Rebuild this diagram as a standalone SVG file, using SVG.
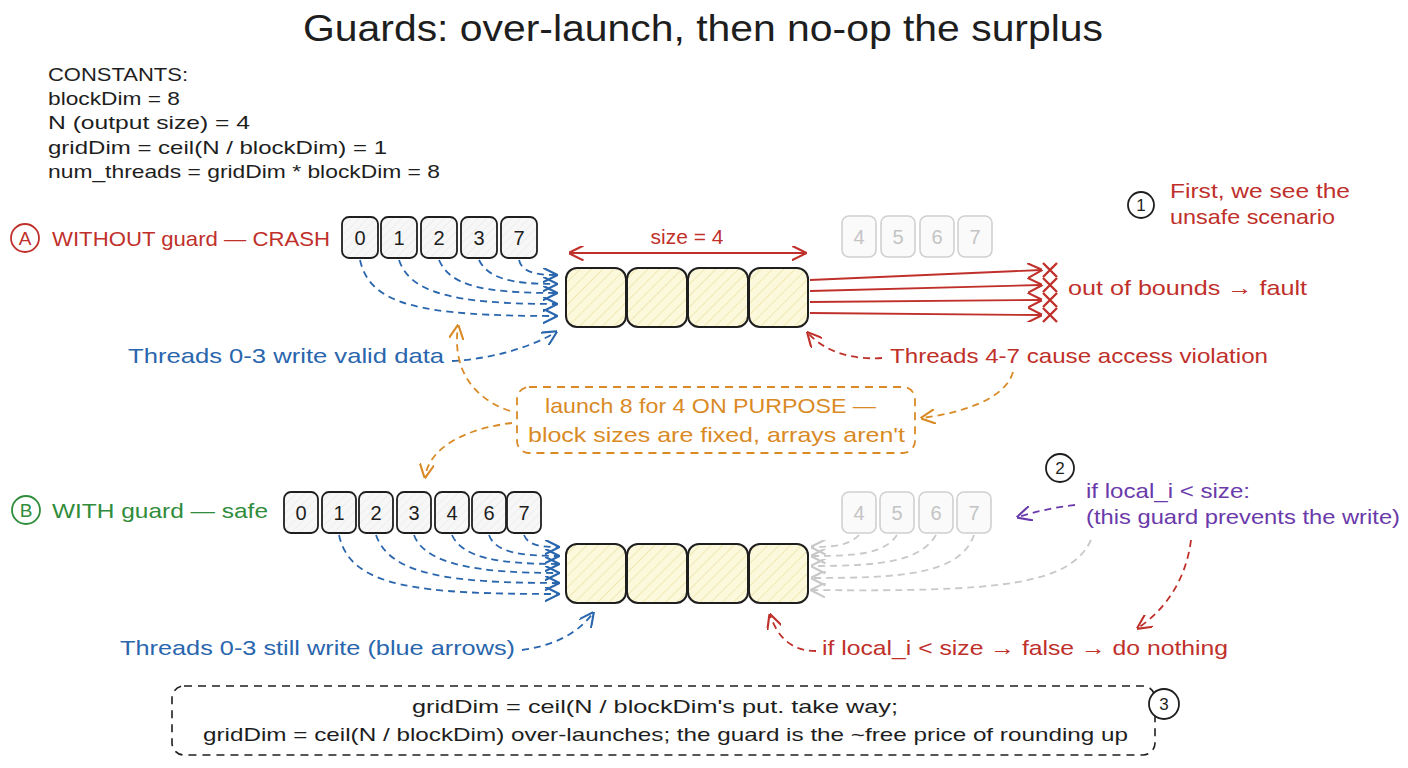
<svg xmlns="http://www.w3.org/2000/svg" width="1408" height="768" viewBox="0 0 1408 768">
<defs>
<style>
text{font-family:"Liberation Sans","DejaVu Sans",sans-serif;}
.t{fill:#1e1e1e;}
.red{fill:#c0302b;}
.blue{fill:#2a66ad;}
.green{fill:#2f8c3a;}
.org{fill:#d98a25;}
.pur{fill:#6a3aaa;}
.gray{fill:#c4c4c4;}
.tb{fill:url(#hg);stroke:#1e1e1e;stroke-width:1.8;}
.gb{fill:#fafafa;stroke:#d0d0d0;stroke-width:1.6;}
.cell{fill:url(#hy);stroke:#1e1e1e;stroke-width:2;}
.dig{font-size:20px;text-anchor:middle;}
.c{fill:none;stroke-width:1.8;}
.d{stroke-dasharray:7 5;}
.cb{stroke:#2a66ad;}
.cr{stroke:#c0302b;}
.co{stroke:#d98a25;}
.cp{stroke:#6a3aaa;}
.cg{stroke:#c8c8c8;}
</style>
<pattern id="hy" patternUnits="userSpaceOnUse" width="8" height="8" patternTransform="rotate(45)">
<rect width="8" height="8" fill="#fcf8dc"/>
<line x1="0" y1="0" x2="0" y2="8" stroke="#ede3a6" stroke-width="1.5"/>
</pattern>
<pattern id="hg" patternUnits="userSpaceOnUse" width="6" height="6" patternTransform="rotate(45)">
<rect width="6" height="6" fill="#f7f7f7"/>
<line x1="0" y1="0" x2="0" y2="6" stroke="#e6e6e6" stroke-width="1"/>
</pattern>
<marker id="ab" viewBox="0 0 10 10" refX="9" refY="5" markerWidth="15" markerHeight="15" markerUnits="userSpaceOnUse" orient="auto"><path d="M0,0 L10,5 L0,10" fill="none" stroke="#2a66ad" stroke-width="1.4"/></marker>
<marker id="ar" viewBox="0 0 10 10" refX="9" refY="5" markerWidth="15" markerHeight="15" markerUnits="userSpaceOnUse" orient="auto-start-reverse"><path d="M0,0 L10,5 L0,10" fill="none" stroke="#c0302b" stroke-width="1.4"/></marker>
<marker id="ao" viewBox="0 0 10 10" refX="9" refY="5" markerWidth="15" markerHeight="15" markerUnits="userSpaceOnUse" orient="auto"><path d="M0,0 L10,5 L0,10" fill="none" stroke="#d98a25" stroke-width="1.4"/></marker>
<marker id="ap" viewBox="0 0 10 10" refX="9" refY="5" markerWidth="15" markerHeight="15" markerUnits="userSpaceOnUse" orient="auto"><path d="M0,0 L10,5 L0,10" fill="none" stroke="#6a3aaa" stroke-width="1.4"/></marker>
<marker id="ag" viewBox="0 0 10 10" refX="9" refY="5" markerWidth="15" markerHeight="15" markerUnits="userSpaceOnUse" orient="auto"><path d="M0,0 L10,5 L0,10" fill="none" stroke="#c8c8c8" stroke-width="1.4"/></marker>
</defs>
<rect width="1408" height="768" fill="#ffffff"/>

<g id="title"><text class="t" x="303" y="41" font-size="36" textLength="800" lengthAdjust="spacingAndGlyphs">Guards: over-launch, then no-op the surplus</text></g>

<g id="constants" font-size="19">
<text class="t" x="48" y="81" textLength="140" lengthAdjust="spacingAndGlyphs">CONSTANTS:</text>
<text class="t" x="48" y="105" textLength="132" lengthAdjust="spacingAndGlyphs">blockDim = 8</text>
<text class="t" x="48" y="129" textLength="202" lengthAdjust="spacingAndGlyphs">N (output size) = 4</text>
<text class="t" x="48" y="154" textLength="339" lengthAdjust="spacingAndGlyphs">gridDim = ceil(N / blockDim) = 1</text>
<text class="t" x="48" y="178" textLength="392" lengthAdjust="spacingAndGlyphs">num_threads = gridDim * blockDim = 8</text>
</g>

<g id="labelA">
<circle cx="25" cy="238" r="14" fill="none" stroke="#c0302b" stroke-width="1.8"/>
<text class="red" x="25" y="245" font-size="19" text-anchor="middle">A</text>
<text class="red" x="52" y="246" font-size="21" textLength="278" lengthAdjust="spacingAndGlyphs">WITHOUT guard — CRASH</text>
</g>

<g id="threadsA">
<rect class="tb" x="342" y="217" width="36" height="41" rx="7"/><text class="t dig" x="360" y="245">0</text>
<rect class="tb" x="381" y="217" width="36" height="41" rx="7"/><text class="t dig" x="399" y="245">1</text>
<rect class="tb" x="421" y="217" width="36" height="41" rx="7"/><text class="t dig" x="439" y="245">2</text>
<rect class="tb" x="461" y="217" width="36" height="41" rx="7"/><text class="t dig" x="479" y="245">3</text>
<rect class="tb" x="501" y="217" width="36" height="41" rx="7"/><text class="t dig" x="519" y="245">7</text>
</g>

<g id="ghostA">
<rect class="gb" x="842" y="216" width="34" height="41" rx="7"/><text class="gray dig" x="859" y="244">4</text>
<rect class="gb" x="881" y="216" width="34" height="41" rx="7"/><text class="gray dig" x="898" y="244">5</text>
<rect class="gb" x="920" y="216" width="34" height="41" rx="7"/><text class="gray dig" x="937" y="244">6</text>
<rect class="gb" x="958" y="216" width="34" height="41" rx="7"/><text class="gray dig" x="975" y="244">7</text>
</g>

<g id="arrayA">
<rect class="cell" x="566" y="268" width="60" height="59" rx="11"/>
<rect class="cell" x="627" y="268" width="60" height="59" rx="11"/>
<rect class="cell" x="688" y="268" width="60" height="59" rx="11"/>
<rect class="cell" x="749" y="268" width="59" height="59" rx="11"/>
</g>

<g id="sizeLabel">
<text class="red" x="687" y="244" font-size="21" text-anchor="middle">size = 4</text>
</g>

<g id="faults">
<g stroke="#c0302b" stroke-width="2.4" fill="none">
<path d="M1043,263 L1057,277 M1057,263 L1043,277"/>
<path d="M1043,278 L1057,292 M1057,278 L1043,292"/>
<path d="M1043,293 L1057,307 M1057,293 L1043,307"/>
<path d="M1043,308 L1057,322 M1057,308 L1043,322"/>
</g>
<text class="red" x="1068" y="295" font-size="21" textLength="239" lengthAdjust="spacingAndGlyphs">out of bounds → fault</text>
</g>

<g id="note1">
<circle cx="1141" cy="205" r="13" fill="none" stroke="#1e1e1e" stroke-width="1.8"/>
<text class="t" x="1141" y="211" font-size="17" text-anchor="middle">1</text>
<text class="red" x="1170" y="198" font-size="21" textLength="180" lengthAdjust="spacingAndGlyphs">First, we see the</text>
<text class="red" x="1170" y="224" font-size="21" textLength="165" lengthAdjust="spacingAndGlyphs">unsafe scenario</text>
</g>

<g id="noteValidA"><text class="blue" x="128" y="363" font-size="21" textLength="316" lengthAdjust="spacingAndGlyphs">Threads 0-3 write valid data</text></g>
<g id="noteViolation"><text class="red" x="890" y="363" font-size="21" textLength="378" lengthAdjust="spacingAndGlyphs">Threads 4-7 cause access violation</text></g>

<g id="purposeNote">
<rect x="517" y="387" width="398" height="66" rx="12" fill="none" stroke="#d98a25" stroke-width="1.8" stroke-dasharray="8 6"/>
<text class="org" x="545" y="413" font-size="21" textLength="331" lengthAdjust="spacingAndGlyphs">launch 8 for 4 ON PURPOSE —</text>
<text class="org" x="528" y="442" font-size="21" textLength="377" lengthAdjust="spacingAndGlyphs">block sizes are fixed, arrays aren't</text>
</g>

<g id="labelB">
<circle cx="26" cy="510" r="14" fill="none" stroke="#2f8c3a" stroke-width="1.8"/>
<text class="green" x="26" y="517" font-size="19" text-anchor="middle">B</text>
<text class="green" x="52" y="518" font-size="21" textLength="216" lengthAdjust="spacingAndGlyphs">WITH guard — safe</text>
</g>

<g id="threadsB">
<rect class="tb" x="284" y="492" width="34" height="41" rx="7"/><text class="t dig" x="301" y="520">0</text>
<rect class="tb" x="322" y="492" width="34" height="41" rx="7"/><text class="t dig" x="339" y="520">1</text>
<rect class="tb" x="359" y="492" width="34" height="41" rx="7"/><text class="t dig" x="376" y="520">2</text>
<rect class="tb" x="397" y="492" width="34" height="41" rx="7"/><text class="t dig" x="414" y="520">3</text>
<rect class="tb" x="435" y="492" width="34" height="41" rx="7"/><text class="t dig" x="452" y="520">4</text>
<rect class="tb" x="472" y="492" width="34" height="41" rx="7"/><text class="t dig" x="489" y="520">6</text>
<rect class="tb" x="507" y="492" width="34" height="41" rx="7"/><text class="t dig" x="524" y="520">7</text>
</g>

<g id="ghostB">
<rect class="gb" x="842" y="492" width="34" height="41" rx="7"/><text class="gray dig" x="859" y="520">4</text>
<rect class="gb" x="880" y="492" width="34" height="41" rx="7"/><text class="gray dig" x="897" y="520">5</text>
<rect class="gb" x="919" y="492" width="34" height="41" rx="7"/><text class="gray dig" x="936" y="520">6</text>
<rect class="gb" x="957" y="492" width="34" height="41" rx="7"/><text class="gray dig" x="974" y="520">7</text>
</g>

<g id="arrayB">
<rect class="cell" x="566" y="544" width="60" height="59" rx="11"/>
<rect class="cell" x="627" y="544" width="60" height="59" rx="11"/>
<rect class="cell" x="688" y="544" width="60" height="59" rx="11"/>
<rect class="cell" x="749" y="544" width="59" height="59" rx="11"/>
</g>

<g id="note2">
<circle cx="1060" cy="468" r="14" fill="none" stroke="#1e1e1e" stroke-width="1.8"/>
<text class="t" x="1060" y="474" font-size="17" text-anchor="middle">2</text>
<text class="pur" x="1086" y="498" font-size="21" textLength="164" lengthAdjust="spacingAndGlyphs">if local_i &lt; size:</text>
<text class="pur" x="1086" y="524" font-size="21" textLength="314" lengthAdjust="spacingAndGlyphs">(this guard prevents the write)</text>
</g>

<g id="noteStillWrite"><text class="blue" x="120" y="655" font-size="21" textLength="395" lengthAdjust="spacingAndGlyphs">Threads 0-3 still write (blue arrows)</text></g>
<g id="noteNothing"><text class="red" x="822" y="655" font-size="21" textLength="406" lengthAdjust="spacingAndGlyphs">if local_i &lt; size → false → do nothing</text></g>

<g id="summary">
<rect x="172" y="686" width="983" height="69" rx="12" fill="none" stroke="#1e1e1e" stroke-width="1.6" stroke-dasharray="8 6"/>
<text class="t" x="412" y="713" font-size="19" textLength="486" lengthAdjust="spacingAndGlyphs">gridDim = ceil(N / blockDim's put. take way;</text>
<text class="t" x="203" y="741" font-size="19" textLength="925" lengthAdjust="spacingAndGlyphs">gridDim = ceil(N / blockDim) over-launches; the guard is the ~free price of rounding up</text>
<circle cx="1164" cy="704" r="15" fill="#ffffff" stroke="#1e1e1e" stroke-width="1.8"/>
<text class="t" x="1164" y="710" font-size="17" text-anchor="middle">3</text>
</g>

<g id="connectors">
<path class="c cr" d="M570,253 L805,253" marker-start="url(#ar)" marker-end="url(#ar)"/>
<path class="c d cb" d="M519,260 C522,272 535,275 556,275" marker-end="url(#ab)"/>
<path class="c d cb" d="M479,260 C488,278 510,284 556,284" marker-end="url(#ab)"/>
<path class="c d cb" d="M439,260 C450,285 480,293 556,293" marker-end="url(#ab)"/>
<path class="c d cb" d="M399,260 C410,292 450,304 556,304" marker-end="url(#ab)"/>
<path class="c d cb" d="M360,260 C370,305 420,316 556,316" marker-end="url(#ab)"/>
<path class="c d cb" d="M452,361 C490,359 530,348 556,332" marker-end="url(#ab)"/>
<path class="c cr" d="M810,280 L1041,270" marker-end="url(#ar)"/>
<path class="c cr" d="M810,291 L1041,285" marker-end="url(#ar)"/>
<path class="c cr" d="M810,302 L1041,300" marker-end="url(#ar)"/>
<path class="c cr" d="M810,313 L1041,315" marker-end="url(#ar)"/>
<path class="c d cr" d="M882,358 C852,360 825,352 808,333" marker-end="url(#ar)"/>
<path class="c d co" d="M510,411 C472,398 452,368 458,326" marker-end="url(#ao)"/>
<path class="c d co" d="M512,423 C470,428 430,445 425,477" marker-end="url(#ao)"/>
<path class="c d co" d="M1013,372 C1005,400 960,413 922,418" marker-end="url(#ao)"/>
<path class="c d cb" d="M524,535 C528,545 540,547 558,547" marker-end="url(#ab)"/>
<path class="c d cb" d="M489,535 C495,552 520,556 558,556" marker-end="url(#ab)"/>
<path class="c d cb" d="M452,535 C462,558 500,564 558,564" marker-end="url(#ab)"/>
<path class="c d cb" d="M414,535 C425,565 480,573 558,573" marker-end="url(#ab)"/>
<path class="c d cb" d="M376,535 C390,575 450,583 558,583" marker-end="url(#ab)"/>
<path class="c d cb" d="M339,535 C350,588 420,594 558,594" marker-end="url(#ab)"/>
<path class="c d cb" d="M522,650 C550,646 576,636 593,613" marker-end="url(#ab)"/>
<path class="c d cg" d="M859,535 C850,545 835,547 812,547" marker-end="url(#ag)"/>
<path class="c d cg" d="M897,535 C885,553 860,556 812,556" marker-end="url(#ag)"/>
<path class="c d cg" d="M936,535 C920,562 880,566 812,566" marker-end="url(#ag)"/>
<path class="c d cg" d="M974,535 C960,575 900,578 812,578" marker-end="url(#ag)"/>
<path class="c d cg" d="M1091,540 C1070,585 1000,592 812,590" marker-end="url(#ag)"/>
<path class="c d cr" d="M816,651 C792,651 778,638 770,615" marker-end="url(#ar)"/>
<path class="c d cr" d="M1191,540 C1186,580 1165,610 1138,628" marker-end="url(#ar)"/>
<path class="c d cp" d="M1075,505 C1055,507 1035,512 1018,517" marker-end="url(#ap)"/>
</g>
</svg>
